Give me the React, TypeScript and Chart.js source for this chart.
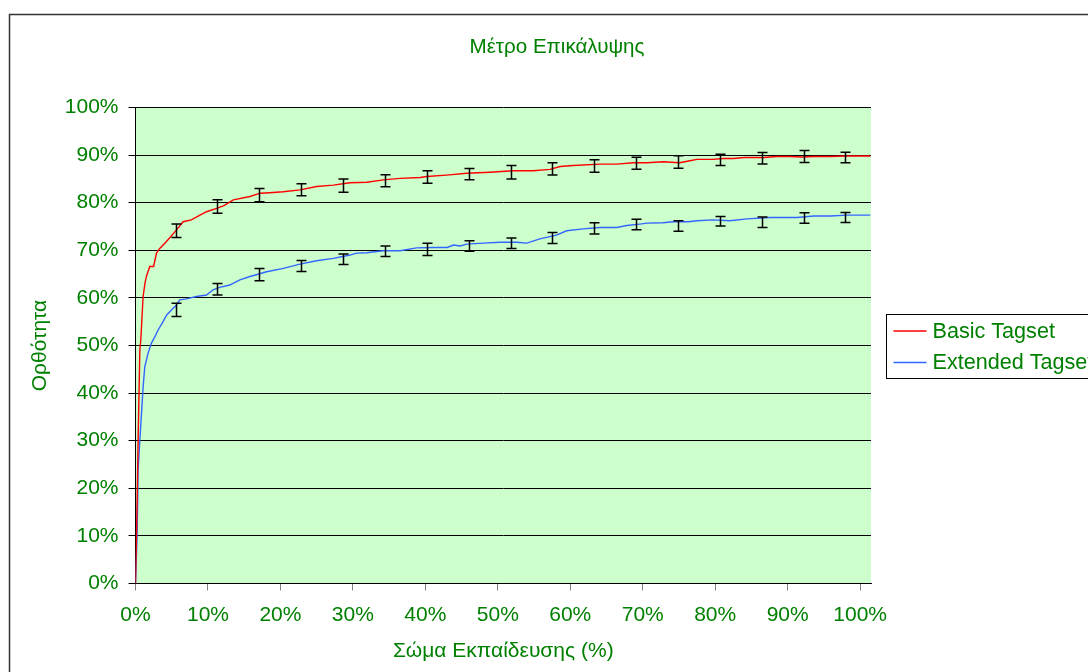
import React, { useEffect, useRef } from "react";
import { Chart, registerables } from "chart.js";

Chart.register(...registerables);

// ---------- data ----------
const seriesNames = ["Basic Tagset", "Extended Tagset"];
const chartTitle = "Μέτρο Επικάλυψης";
const xAxisTitle = "Σώμα Εκπαίδευσης (%)";
const yAxisTitle = "Ορθότητα";

const xTickValues = [0, 10, 20, 30, 40, 50, 60, 70, 80, 90, 100];
const yTickValues = [0, 10, 20, 30, 40, 50, 60, 70, 80, 90, 100];

const basicX = [0, 0.2, 0.36, 0.6, 0.73, 1.05, 1.3, 1.5, 1.97, 2.5, 2.9, 3.35, 4.05, 4.7, 5.66, 6.57, 7.7, 8.9, 9.8, 11.2, 12.2, 13.5, 15.8, 17.2, 18.5, 20.4, 22.7, 25.0, 27.3, 29.6, 31.9, 34.2, 36.5, 39.3, 40.2, 42.9, 45.7, 48.9, 52.1, 54.9, 57.2, 58.6, 60.4, 64.1, 66.4, 68.7, 70.6, 72.8, 75.1, 76.5, 77.5, 79.7, 81.1, 82.5, 84.0, 86.7, 88.5, 90.3, 92.0, 93.6, 95.9, 98.0, 101.4];
const basicY = [0, 15, 30, 49, 51.1, 60.3, 63, 64.5, 66.6, 66.6, 69.4, 70.4, 71.5, 72.6, 74.3, 76, 76.4, 77.4, 78.1, 78.8, 79.4, 80.6, 81.3, 82, 82.1, 82.3, 82.7, 83.4, 83.7, 84.2, 84.3, 84.8, 85.1, 85.3, 85.5, 85.8, 86.2, 86.4, 86.7, 86.7, 87.0, 87.6, 87.8, 88.1, 88.1, 88.4, 88.4, 88.6, 88.4, 88.8, 89.1, 89.1, 89.3, 89.3, 89.5, 89.5, 89.7, 89.7, 89.6, 89.7, 89.7, 89.8, 89.8];

const extendedX = [0, 0.22, 0.36, 0.6, 0.83, 1.05, 1.28, 1.74, 2.2, 2.66, 3.1, 3.8, 4.3, 5.0, 5.66, 6.1, 7.0, 8.4, 9.8, 10.7, 11.6, 13.0, 14.4, 15.8, 18.1, 20.4, 22.7, 25.0, 27.3, 29.6, 30.5, 31.9, 34.2, 36.5, 38.8, 41.1, 43.0, 43.9, 44.8, 45.7, 48.0, 50.3, 52.6, 54.0, 55.8, 58.1, 59.5, 61.8, 64.1, 66.4, 67.8, 69.6, 70.6, 72.8, 74.2, 76.3, 77.5, 79.7, 82.0, 84.4, 87.6, 91.3, 93.6, 95.9, 98.2, 101.4];
const extendedY = [0, 10, 23.8, 30.1, 35.8, 41.3, 45.5, 48.4, 50.5, 51.8, 53.2, 55, 56.4, 57.5, 58.5, 59.6, 59.8, 60.3, 60.6, 61.7, 62.2, 62.7, 63.8, 64.5, 65.5, 66.2, 67.1, 67.8, 68.3, 69.0, 69.4, 69.5, 69.9, 69.9, 70.5, 70.6, 70.6, 71.1, 70.9, 71.3, 71.5, 71.7, 71.7, 71.5, 72.4, 73.2, 74.1, 74.5, 74.8, 74.8, 75.2, 75.5, 75.7, 75.8, 76.0, 76.0, 76.2, 76.4, 76.2, 76.6, 76.9, 76.9, 77.2, 77.2, 77.4, 77.4];

const errX = [5.6, 11.3, 17.1, 22.9, 28.7, 34.4, 40.2, 46.0, 51.8, 57.5, 63.3, 69.1, 74.9, 80.6, 86.4, 92.2, 97.9];
const basicErrMean = [74.1, 79.2, 81.6, 82.7, 83.6, 84.6, 85.4, 86.0, 86.4, 87.1, 87.7, 88.3, 88.55, 89.0, 89.35, 89.7, 89.5];
const basicErrHalf = [1.4, 1.4, 1.4, 1.26, 1.4, 1.26, 1.3, 1.2, 1.4, 1.3, 1.3, 1.26, 1.3, 1.2, 1.2, 1.26, 1.1];
const extendedErrMean = [57.5, 61.8, 64.9, 66.7, 68.1, 69.8, 70.2, 70.9, 71.5, 72.6, 74.6, 75.4, 75.1, 76.1, 75.9, 76.8, 76.9];
const extendedErrHalf = [1.4, 1.2, 1.3, 1.15, 1.1, 1.1, 1.3, 1.1, 1.1, 1.15, 1.2, 1.1, 1.1, 1.0, 1.1, 1.1, 1.05];

// ---------- style ----------
const FONT_FAMILY = '"Liberation Sans", Arial, sans-serif';
const GREEN = "#008000";
const RED = "#ff0000";
const BLUE = "#3366ff";
const PLOT_BG = "#ccffcc";

const toPoints = (xs: number[], ys: number[]) => xs.map((x, i) => ({ x, y: ys[i] }));

export default function App() {
  const ref = useRef<HTMLCanvasElement>(null);

  useEffect(() => {
    const canvas = ref.current;
    if (!canvas) return;

    const bgPlugin = {
      id: "bg",
      beforeDraw(chart: any) {
        const { ctx, chartArea: a } = chart;
        ctx.save();
        ctx.fillStyle = "#ffffff";
        ctx.fillRect(0, 0, chart.width, chart.height);
        ctx.strokeStyle = "#333333";
        ctx.lineWidth = 1.5;
        ctx.strokeRect(9.5, 14.5, 2000, 2000);
        ctx.fillStyle = PLOT_BG;
        ctx.fillRect(a.left, a.top, a.right - a.left, a.bottom - a.top);
        ctx.restore();
      },
    };

    const errorPlugin = {
      id: "errbars",
      afterDatasetsDraw(chart: any) {
        const { ctx } = chart;
        const xs = chart.scales.x;
        const ys = chart.scales.y;
        const sets = [
          [basicErrMean, basicErrHalf],
          [extendedErrMean, extendedErrHalf],
        ];
        ctx.save();
        ctx.strokeStyle = "#000000";
        ctx.lineWidth = 1.5;
        sets.forEach(([means, halves]) => {
          errX.forEach((xv, i) => {
            const px = Math.round(xs.getPixelForValue(xv)) + 0.5;
            const top = ys.getPixelForValue(means[i] + halves[i]);
            const bot = ys.getPixelForValue(means[i] - halves[i]);
            ctx.beginPath();
            ctx.moveTo(px, top);
            ctx.lineTo(px, bot);
            ctx.moveTo(px - 5, top);
            ctx.lineTo(px + 5, top);
            ctx.moveTo(px - 5, bot);
            ctx.lineTo(px + 5, bot);
            ctx.stroke();
          });
        });
        ctx.restore();
      },
    };

    const textPlugin = {
      id: "texts",
      afterDraw(chart: any) {
        const { ctx, chartArea: a } = chart;
        ctx.save();
        ctx.font = `20.6px ${FONT_FAMILY}`;
        ctx.fillStyle = GREEN;
        ctx.textAlign = "center";
        ctx.textBaseline = "middle";
        ctx.fillText(chartTitle, 557, 47);

        // legend
        const midY = (a.top + a.bottom) / 2;
        const boxLeft = a.right + 15.5;
        ctx.strokeStyle = "#000000";
        ctx.lineWidth = 1;
        ctx.strokeRect(boxLeft, Math.round(midY - 32) + 0.5, 400, 64);
        const rows = [midY - 14.5, midY + 17];
        const colors = [RED, BLUE];
        ctx.textAlign = "left";
        ctx.font = `21.6px ${FONT_FAMILY}`;
        chart.data.datasets.forEach((ds: any, i: number) => {
          ctx.strokeStyle = colors[i];
          ctx.lineWidth = 1.5;
          ctx.beginPath();
          ctx.moveTo(boxLeft + 7, rows[i]);
          ctx.lineTo(boxLeft + 40, rows[i]);
          ctx.stroke();
          ctx.fillStyle = GREEN;
          ctx.fillText(ds.label, boxLeft + 46, rows[i] + 1);
        });
        ctx.restore();
      },
    };

    const font = { family: FONT_FAMILY, size: 21 };

    const chart = new Chart(canvas, {
      type: "line",
      data: {
        datasets: [
          {
            label: seriesNames[0],
            data: toPoints(basicX, basicY),
            borderColor: RED,
            borderWidth: 1.4,
            pointRadius: 0,
            tension: 0,
          },
          {
            label: seriesNames[1],
            data: toPoints(extendedX, extendedY),
            borderColor: BLUE,
            borderWidth: 1.4,
            pointRadius: 0,
            tension: 0,
          },
        ],
      },
      options: {
        animation: false,
        responsive: false,
        events: [],
        layout: { padding: { left: 0, top: 107.5, right: 217, bottom: 0 } },
        plugins: {
          legend: { display: false },
          title: { display: false },
          tooltip: { enabled: false },
        },
        scales: {
          x: {
            type: "linear",
            min: 0,
            max: 101.5,
            afterBuildTicks: (s: any) => {
              s.ticks = xTickValues.map((v) => ({ value: v }));
            },
            afterFit: (s: any) => {
              s.height = 88.5;
            },
            grid: { drawOnChartArea: false, drawTicks: true, tickLength: 7, color: "#808080" },
            border: { color: "#000000", width: 1 },
            ticks: {
              color: GREEN,
              font,
              padding: 12,
              maxRotation: 0,
              autoSkip: false,
              callback: (v: any) => `${v}%`,
            },
            title: {
              display: true,
              text: xAxisTitle,
              color: GREEN,
              font,
              padding: { top: 0, bottom: 8 },
            },
          },
          y: {
            type: "linear",
            min: 0,
            max: 100,
            afterBuildTicks: (s: any) => {
              s.ticks = yTickValues.map((v) => ({ value: v }));
            },
            afterFit: (s: any) => {
              s.width = 135.5;
            },
            grid: { color: "#000000", lineWidth: 1, tickLength: 7 },
            border: { color: "#000000", width: 1 },
            ticks: {
              color: GREEN,
              font,
              padding: 10,
              callback: (v: any) => `${v}%`,
            },
            title: {
              display: true,
              text: yAxisTitle,
              color: GREEN,
              font,
              padding: { top: 27.5, bottom: 0 },
            },
          },
        },
      } as any,
      plugins: [bgPlugin, errorPlugin, textPlugin],
    });

    return () => chart.destroy();
  }, []);

  return (
    <div
      style={{
        position: "fixed",
        left: 0,
        top: 0,
        width: 1088,
        height: 672,
        overflow: "hidden",
        background: "#ffffff",
      }}
    >
      <canvas ref={ref} width={1088} height={672} style={{ display: "block" }} />
    </div>
  );
}
